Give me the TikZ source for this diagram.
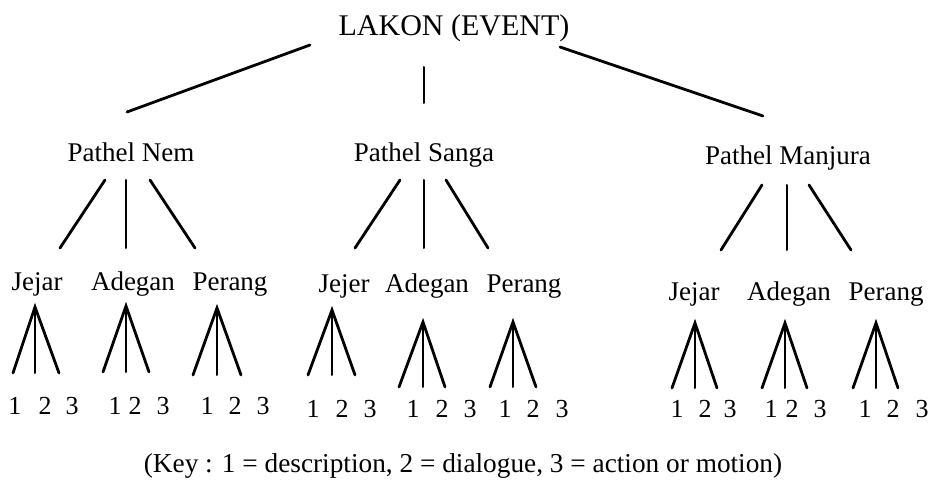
\documentclass[tikz,border=0pt]{standalone}
\usepackage{fontspec}
\setmainfont{Liberation Serif}
\begin{document}
\begin{tikzpicture}[x=1pt,y=-1pt,
  lbl/.style={anchor=base,inner sep=0pt,font=\fontsize{27}{30}\selectfont},
  num/.style={anchor=base,inner sep=0pt,font=\fontsize{26}{30}\selectfont},
  edge/.style={line width=2.8pt,line cap=round},
  vedge/.style={line width=2pt,line cap=round}]
\useasboundingbox (0,0) rectangle (929,489);
% top
\node[lbl,font=\fontsize{30}{32}\selectfont] (lakon) at (454,36) {LAKON (EVENT)};
\node[lbl] (nem) at (131,162) {Pathel Nem};
\node[lbl] (sanga) at (424,162) {Pathel Sanga};
\node[lbl] (manjura) at (788,165) {Pathel Manjura};
\coordinate (t1a) at (310,45); \coordinate (t1b) at (127,112);
\coordinate (t2a) at (424,67); \coordinate (t2b) at (424,103);
\coordinate (t3a) at (560,47); \coordinate (t3b) at (763,116);
\draw[edge] (t1a) -- (t1b);
\draw[vedge] (t2a) -- (t2b);
\draw[edge] (t3a) -- (t3b);
% level 3 labels
\node[lbl] (j1) at (37,290) {Jejar};
\node[lbl] (a1) at (133,290) {Adegan};
\node[lbl] (p1) at (230,290) {Perang};
\node[lbl] (j2) at (344,292) {Jejer};
\node[lbl] (a2) at (427,292) {Adegan};
\node[lbl] (p2) at (524,292) {Perang};
\node[lbl] (j3) at (694,300) {Jejar};
\node[lbl] (a3) at (789,300) {Adegan};
\node[lbl] (p3) at (886,300) {Perang};
% branch macro: name, top y, bottom y, top xl, top xm, top xr, bot xl, bot xm, bot xr
\newcommand\branch[9]{%
  \coordinate (#1-tl) at (#4,#2); \coordinate (#1-tm) at (#5,#2); \coordinate (#1-tr) at (#6,#2);
  \coordinate (#1-bl) at (#7,#3); \coordinate (#1-bm) at (#8,#3); \coordinate (#1-br) at (#9,#3);
  \draw[edge] (#1-tl) -- (#1-bl);
  \draw[vedge] (#1-tm) -- (#1-bm);
  \draw[edge] (#1-tr) -- (#1-br);}
\branch{bn}{180}{248}{105}{126}{150}{60}{126}{195}
\branch{bs}{180}{248}{400}{424}{446}{355}{424}{488}
\branch{bm}{185}{250}{762}{787}{809}{721}{787}{851}
% fan macro: name, apex x, apex y, left x, mid x, right x, bottom y
\newcommand\fan[7]{%
  \coordinate (#1-a) at (#2,#3);
  \coordinate (#1-l) at (#4,#7); \coordinate (#1-m) at (#5,#7); \coordinate (#1-r) at (#6,#7);
  \draw[edge,line join=miter] (#1-l) -- (#1-a) -- (#1-r);
  \draw[vedge] (#1-a) -- (#1-m);}
\fan{f1}{35}{307}{13}{35}{59}{373}
\fan{f2}{126}{306}{103}{126}{149}{372}
\fan{f3}{217}{308}{193}{217}{241}{375}
\fan{f4}{332}{310}{308}{332}{355}{375}
\fan{f5}{423}{322}{399}{423}{445}{387}
\fan{f6}{513}{322}{490}{513}{536}{387}
\fan{f7}{695}{323}{672}{695}{717}{388}
\fan{f8}{785}{323}{762}{785}{807}{388}
\fan{f9}{876}{323}{853}{876}{898}{388}
% numbers
\newcommand\nums[5]{%
  \node[num] (#1-1) at (#2,#5) {1};
  \node[num] (#1-2) at (#3,#5) {2};
  \node[num] (#1-3) at (#4,#5) {3};}
\nums{n1}{15}{45}{72}{414}
\nums{n2}{115}{135}{163}{414}
\nums{n3}{207}{235}{263}{414}
\nums{n4}{313}{342}{370}{417}
\nums{n5}{413}{442}{470}{417}
\nums{n6}{505}{533}{562}{417}
\nums{n7}{677}{705}{730}{417}
\nums{n8}{771}{792}{820}{417}
\nums{n9}{865}{893}{922}{417}
% key
\node[lbl,font=\fontsize{27.3}{30}\selectfont] (key) at (463,472) {(Key : 1 = description, 2 = dialogue, 3 = action or motion)};
\end{tikzpicture}
\end{document}
